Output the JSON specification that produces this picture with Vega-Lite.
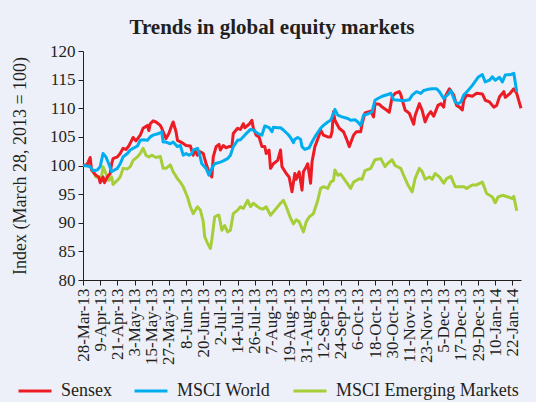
{
"$schema": "https://vega.github.io/schema/vega-lite/v6.json",
"width": 438, "height": 229,
"autosize": {"type": "none"},
"padding": {"left": 83, "top": 51, "right": 15, "bottom": 122},
"background": "#edf0f8",
"title": {"text": "Trends in global equity markets", "font": "Liberation Serif", "fontSize": 21, "fontWeight": "bold", "color": "#231f20", "anchor": "middle", "frame": "group", "dx": -30, "offset": 4},
"config": {
  "view": {"stroke": null},
  "axis": {"domainColor": "#231f20", "tickColor": "#231f20", "labelColor": "#231f20", "titleColor": "#231f20", "labelFont": "Liberation Serif", "labelFontSize": 17, "titleFont": "Liberation Serif", "titleFontSize": 18, "titleFontWeight": "normal", "tickSize": 5, "grid": false, "domainWidth": 1, "tickWidth": 1}
},
"datasets": {
"s": [
{"date":"2013-03-28","value":100},{"date":"2013-03-31","value":100.2},{"date":"2013-04-02","value":101.4},{"date":"2013-04-03","value":99.2},{"date":"2013-04-06","value":98.3},{"date":"2013-04-08","value":98},{"date":"2013-04-09","value":97},{"date":"2013-04-11","value":98},{"date":"2013-04-12","value":97},{"date":"2013-04-14","value":98},{"date":"2013-04-16","value":98.6},{"date":"2013-04-17","value":100.3},{"date":"2013-04-18","value":101.2},{"date":"2013-04-21","value":101.5},{"date":"2013-04-23","value":102.1},{"date":"2013-04-25","value":103},{"date":"2013-04-27","value":102.8},{"date":"2013-04-29","value":103.4},{"date":"2013-05-01","value":104.4},{"date":"2013-05-02","value":104.9},{"date":"2013-05-04","value":104.3},{"date":"2013-05-07","value":105.3},{"date":"2013-05-09","value":106.5},{"date":"2013-05-12","value":107},{"date":"2013-05-13","value":106.1},{"date":"2013-05-14","value":107.3},{"date":"2013-05-16","value":107.8},{"date":"2013-05-18","value":107.6},{"date":"2013-05-21","value":107},{"date":"2013-05-22","value":106.5},{"date":"2013-05-25","value":104.7},{"date":"2013-05-27","value":105.6},{"date":"2013-05-29","value":107},{"date":"2013-05-30","value":107.6},{"date":"2013-06-01","value":105.9},{"date":"2013-06-02","value":104.4},{"date":"2013-06-05","value":104},{"date":"2013-06-08","value":103.5},{"date":"2013-06-11","value":103.4},{"date":"2013-06-13","value":101.8},{"date":"2013-06-14","value":102.7},{"date":"2013-06-16","value":101.8},{"date":"2013-06-18","value":102.4},{"date":"2013-06-20","value":102.1},{"date":"2013-06-22","value":100.3},{"date":"2013-06-24","value":98.9},{"date":"2013-06-26","value":98},{"date":"2013-06-27","value":101.5},{"date":"2013-06-29","value":103.3},{"date":"2013-07-01","value":103.7},{"date":"2013-07-02","value":102.7},{"date":"2013-07-04","value":103.5},{"date":"2013-07-06","value":103.1},{"date":"2013-07-08","value":103.3},{"date":"2013-07-10","value":103.3},{"date":"2013-07-11","value":105.6},{"date":"2013-07-14","value":106.5},{"date":"2013-07-16","value":106.3},{"date":"2013-07-18","value":107.3},{"date":"2013-07-19","value":106.6},{"date":"2013-07-22","value":107.2},{"date":"2013-07-24","value":107.9},{"date":"2013-07-25","value":106.5},{"date":"2013-07-27","value":105.3},{"date":"2013-07-29","value":105},{"date":"2013-07-31","value":103.3},{"date":"2013-08-02","value":103.3},{"date":"2013-08-03","value":102.1},{"date":"2013-08-05","value":102.7},{"date":"2013-08-06","value":99.5},{"date":"2013-08-08","value":100.3},{"date":"2013-08-11","value":100.9},{"date":"2013-08-13","value":102.7},{"date":"2013-08-14","value":99.8},{"date":"2013-08-17","value":98.6},{"date":"2013-08-19","value":98},{"date":"2013-08-21","value":95.4},{"date":"2013-08-23","value":98.6},{"date":"2013-08-24","value":97.6},{"date":"2013-08-26","value":98.9},{"date":"2013-08-28","value":95.7},{"date":"2013-08-29","value":98.9},{"date":"2013-08-31","value":99.8},{"date":"2013-09-01","value":100.3},{"date":"2013-09-03","value":96.9},{"date":"2013-09-04","value":100.6},{"date":"2013-09-06","value":103.3},{"date":"2013-09-09","value":105.3},{"date":"2013-09-10","value":106.2},{"date":"2013-09-12","value":105.3},{"date":"2013-09-15","value":105},{"date":"2013-09-17","value":105},{"date":"2013-09-18","value":105.9},{"date":"2013-09-19","value":109.4},{"date":"2013-09-20","value":107.9},{"date":"2013-09-23","value":106.5},{"date":"2013-09-26","value":105.9},{"date":"2013-09-28","value":104.7},{"date":"2013-09-30","value":103.3},{"date":"2013-10-03","value":105.3},{"date":"2013-10-05","value":105.9},{"date":"2013-10-08","value":105.9},{"date":"2013-10-09","value":107.3},{"date":"2013-10-11","value":109.2},{"date":"2013-10-15","value":109.5},{"date":"2013-10-17","value":108.5},{"date":"2013-10-18","value":110.8},{"date":"2013-10-21","value":110.7},{"date":"2013-10-23","value":110.2},{"date":"2013-10-26","value":109.7},{"date":"2013-10-28","value":109.3},{"date":"2013-10-30","value":112},{"date":"2013-11-01","value":112.6},{"date":"2013-11-04","value":112.9},{"date":"2013-11-05","value":112.4},{"date":"2013-11-08","value":109.7},{"date":"2013-11-11","value":109.1},{"date":"2013-11-14","value":107.2},{"date":"2013-11-15","value":108.7},{"date":"2013-11-18","value":110.8},{"date":"2013-11-20","value":109.6},{"date":"2013-11-22","value":107.6},{"date":"2013-11-24","value":108.8},{"date":"2013-11-26","value":109.4},{"date":"2013-11-28","value":108.6},{"date":"2013-12-01","value":110.5},{"date":"2013-12-03","value":110.8},{"date":"2013-12-05","value":110.2},{"date":"2013-12-06","value":112},{"date":"2013-12-09","value":113.4},{"date":"2013-12-12","value":112.3},{"date":"2013-12-14","value":110.5},{"date":"2013-12-16","value":110.2},{"date":"2013-12-18","value":109.7},{"date":"2013-12-19","value":111.4},{"date":"2013-12-21","value":112.3},{"date":"2013-12-25","value":112.1},{"date":"2013-12-28","value":112.6},{"date":"2014-01-01","value":112.5},{"date":"2014-01-03","value":111.4},{"date":"2014-01-06","value":111.1},{"date":"2014-01-09","value":110.2},{"date":"2014-01-11","value":110.5},{"date":"2014-01-13","value":112},{"date":"2014-01-16","value":112.9},{"date":"2014-01-17","value":111.9},{"date":"2014-01-20","value":112.5},{"date":"2014-01-22","value":113.1},{"date":"2014-01-23","value":113.4},{"date":"2014-01-25","value":112.6},{"date":"2014-01-28","value":110}
],
"w": [
{"date":"2013-03-28","value":100},{"date":"2013-03-31","value":99.9},{"date":"2013-04-02","value":99.8},{"date":"2013-04-04","value":99.1},{"date":"2013-04-07","value":99.2},{"date":"2013-04-09","value":99.8},{"date":"2013-04-11","value":102.1},{"date":"2013-04-13","value":101.5},{"date":"2013-04-15","value":100.3},{"date":"2013-04-17","value":98.9},{"date":"2013-04-19","value":99.2},{"date":"2013-04-21","value":99.5},{"date":"2013-04-23","value":100.3},{"date":"2013-04-25","value":101.5},{"date":"2013-04-28","value":102.1},{"date":"2013-04-30","value":102.7},{"date":"2013-05-02","value":103},{"date":"2013-05-05","value":103.4},{"date":"2013-05-07","value":104.4},{"date":"2013-05-09","value":104.5},{"date":"2013-05-12","value":104.4},{"date":"2013-05-14","value":105},{"date":"2013-05-16","value":105.3},{"date":"2013-05-20","value":105.6},{"date":"2013-05-22","value":105.9},{"date":"2013-05-23","value":104.1},{"date":"2013-05-25","value":104.1},{"date":"2013-05-28","value":103.8},{"date":"2013-05-30","value":104.1},{"date":"2013-06-02","value":103.3},{"date":"2013-06-04","value":103.5},{"date":"2013-06-06","value":101.8},{"date":"2013-06-08","value":102.1},{"date":"2013-06-10","value":101.8},{"date":"2013-06-12","value":102.1},{"date":"2013-06-13","value":102.7},{"date":"2013-06-16","value":103},{"date":"2013-06-17","value":102.4},{"date":"2013-06-19","value":100.3},{"date":"2013-06-22","value":99.5},{"date":"2013-06-24","value":98.3},{"date":"2013-06-26","value":99.5},{"date":"2013-06-28","value":100.3},{"date":"2013-07-02","value":100.6},{"date":"2013-07-04","value":100.8},{"date":"2013-07-07","value":101.2},{"date":"2013-07-09","value":101.8},{"date":"2013-07-11","value":103.3},{"date":"2013-07-14","value":104.4},{"date":"2013-07-16","value":104.5},{"date":"2013-07-19","value":105.3},{"date":"2013-07-23","value":106.3},{"date":"2013-07-25","value":106.2},{"date":"2013-07-28","value":105.6},{"date":"2013-07-31","value":105.3},{"date":"2013-08-02","value":106.9},{"date":"2013-08-05","value":106.6},{"date":"2013-08-07","value":105.9},{"date":"2013-08-08","value":106.7},{"date":"2013-08-11","value":106.6},{"date":"2013-08-13","value":106.6},{"date":"2013-08-15","value":106.2},{"date":"2013-08-18","value":105.5},{"date":"2013-08-20","value":104.9},{"date":"2013-08-22","value":104},{"date":"2013-08-23","value":104.6},{"date":"2013-08-25","value":104.9},{"date":"2013-08-27","value":104.6},{"date":"2013-08-28","value":103.3},{"date":"2013-08-30","value":102.8},{"date":"2013-09-02","value":103.1},{"date":"2013-09-04","value":104.1},{"date":"2013-09-06","value":105},{"date":"2013-09-10","value":106.5},{"date":"2013-09-12","value":107},{"date":"2013-09-15","value":107.6},{"date":"2013-09-17","value":107.9},{"date":"2013-09-19","value":109.1},{"date":"2013-09-20","value":109.8},{"date":"2013-09-22","value":108.8},{"date":"2013-09-25","value":108.5},{"date":"2013-09-29","value":108.2},{"date":"2013-10-01","value":107.9},{"date":"2013-10-04","value":108},{"date":"2013-10-06","value":107.6},{"date":"2013-10-08","value":107},{"date":"2013-10-10","value":108.8},{"date":"2013-10-13","value":109},{"date":"2013-10-16","value":109.4},{"date":"2013-10-18","value":111.4},{"date":"2013-10-20","value":111.7},{"date":"2013-10-23","value":112.1},{"date":"2013-10-27","value":112.4},{"date":"2013-10-29","value":112.6},{"date":"2013-10-31","value":111.5},{"date":"2013-11-04","value":111.4},{"date":"2013-11-07","value":111.3},{"date":"2013-11-11","value":111.5},{"date":"2013-11-13","value":112.3},{"date":"2013-11-16","value":112.9},{"date":"2013-11-19","value":112.6},{"date":"2013-11-21","value":113.1},{"date":"2013-11-24","value":113.3},{"date":"2013-11-27","value":113.4},{"date":"2013-11-30","value":113.4},{"date":"2013-12-02","value":112.9},{"date":"2013-12-05","value":111.7},{"date":"2013-12-08","value":112.4},{"date":"2013-12-10","value":113.1},{"date":"2013-12-13","value":111.1},{"date":"2013-12-15","value":110.8},{"date":"2013-12-17","value":111.1},{"date":"2013-12-19","value":112.3},{"date":"2013-12-22","value":113.1},{"date":"2013-12-25","value":114},{"date":"2013-12-29","value":115.4},{"date":"2014-01-01","value":115.9},{"date":"2014-01-03","value":114.6},{"date":"2014-01-06","value":114.9},{"date":"2014-01-08","value":115.5},{"date":"2014-01-10","value":114.9},{"date":"2014-01-13","value":115.4},{"date":"2014-01-15","value":114.6},{"date":"2014-01-17","value":115.8},{"date":"2014-01-21","value":115.9},{"date":"2014-01-23","value":116.1},{"date":"2014-01-25","value":112.9}
],
"e": [
{"date":"2013-03-28","value":100},{"date":"2013-04-01","value":100},{"date":"2013-04-03","value":99.5},{"date":"2013-04-06","value":98},{"date":"2013-04-08","value":97.9},{"date":"2013-04-10","value":98.1},{"date":"2013-04-11","value":99.8},{"date":"2013-04-13","value":98.6},{"date":"2013-04-15","value":97.4},{"date":"2013-04-17","value":98},{"date":"2013-04-18","value":96.7},{"date":"2013-04-21","value":97.4},{"date":"2013-04-23","value":98},{"date":"2013-04-25","value":99.5},{"date":"2013-04-28","value":99.4},{"date":"2013-04-30","value":99.8},{"date":"2013-05-02","value":100.9},{"date":"2013-05-05","value":101.5},{"date":"2013-05-07","value":102.1},{"date":"2013-05-09","value":103},{"date":"2013-05-11","value":101.8},{"date":"2013-05-13","value":101.5},{"date":"2013-05-15","value":101.8},{"date":"2013-05-18","value":101.4},{"date":"2013-05-21","value":101.6},{"date":"2013-05-23","value":99.5},{"date":"2013-05-25","value":99.5},{"date":"2013-05-28","value":100.1},{"date":"2013-05-30","value":98.9},{"date":"2013-06-02","value":97.7},{"date":"2013-06-04","value":97.1},{"date":"2013-06-06","value":96.3},{"date":"2013-06-09","value":94.5},{"date":"2013-06-11","value":92.8},{"date":"2013-06-13","value":91.6},{"date":"2013-06-16","value":92.8},{"date":"2013-06-18","value":92.2},{"date":"2013-06-20","value":90.2},{"date":"2013-06-21","value":87.6},{"date":"2013-06-23","value":86.4},{"date":"2013-06-25","value":85.5},{"date":"2013-06-26","value":87},{"date":"2013-06-28","value":91},{"date":"2013-06-30","value":91.3},{"date":"2013-07-01","value":91.3},{"date":"2013-07-03","value":88.7},{"date":"2013-07-05","value":89.5},{"date":"2013-07-07","value":88.4},{"date":"2013-07-09","value":88.7},{"date":"2013-07-11","value":91.6},{"date":"2013-07-14","value":92.2},{"date":"2013-07-16","value":92.8},{"date":"2013-07-18","value":92.5},{"date":"2013-07-21","value":93.9},{"date":"2013-07-23","value":92.8},{"date":"2013-07-25","value":93.4},{"date":"2013-07-28","value":92.8},{"date":"2013-07-30","value":92.5},{"date":"2013-08-01","value":92.4},{"date":"2013-08-03","value":92.8},{"date":"2013-08-06","value":91.3},{"date":"2013-08-09","value":92.2},{"date":"2013-08-13","value":93.4},{"date":"2013-08-15","value":93.9},{"date":"2013-08-17","value":92.8},{"date":"2013-08-20","value":90.8},{"date":"2013-08-22","value":89.8},{"date":"2013-08-24","value":90.5},{"date":"2013-08-26","value":90.2},{"date":"2013-08-29","value":88.4},{"date":"2013-08-31","value":90.2},{"date":"2013-09-02","value":91},{"date":"2013-09-05","value":91.6},{"date":"2013-09-08","value":93.9},{"date":"2013-09-10","value":96},{"date":"2013-09-12","value":96.3},{"date":"2013-09-15","value":96},{"date":"2013-09-17","value":97.1},{"date":"2013-09-19","value":97.4},{"date":"2013-09-20","value":99.2},{"date":"2013-09-22","value":98.3},{"date":"2013-09-24","value":98.5},{"date":"2013-09-28","value":97.1},{"date":"2013-10-01","value":96},{"date":"2013-10-03","value":97.1},{"date":"2013-10-07","value":97.7},{"date":"2013-10-09","value":97.6},{"date":"2013-10-11","value":99.1},{"date":"2013-10-15","value":99.5},{"date":"2013-10-18","value":101},{"date":"2013-10-22","value":101.2},{"date":"2013-10-25","value":99.8},{"date":"2013-10-27","value":100.4},{"date":"2013-10-30","value":101},{"date":"2013-11-01","value":100},{"date":"2013-11-05","value":99.5},{"date":"2013-11-07","value":98.3},{"date":"2013-11-10","value":96.6},{"date":"2013-11-13","value":95.4},{"date":"2013-11-15","value":97.7},{"date":"2013-11-18","value":99.5},{"date":"2013-11-20","value":98.9},{"date":"2013-11-22","value":97.6},{"date":"2013-11-25","value":98},{"date":"2013-11-27","value":97.6},{"date":"2013-11-29","value":98.6},{"date":"2013-12-02","value":98},{"date":"2013-12-05","value":96.9},{"date":"2013-12-07","value":97.7},{"date":"2013-12-10","value":98.1},{"date":"2013-12-13","value":96.3},{"date":"2013-12-17","value":96.3},{"date":"2013-12-19","value":96.3},{"date":"2013-12-21","value":96},{"date":"2013-12-25","value":96.6},{"date":"2013-12-28","value":96.6},{"date":"2014-01-01","value":97.1},{"date":"2014-01-04","value":95.1},{"date":"2014-01-08","value":94.5},{"date":"2014-01-10","value":93.5},{"date":"2014-01-12","value":94.5},{"date":"2014-01-15","value":94.8},{"date":"2014-01-19","value":94.5},{"date":"2014-01-22","value":94.2},{"date":"2014-01-23","value":94.6},{"date":"2014-01-25","value":92.1}
]
},
"layer": [
{"data": {"name": "e"}, "transform": [{"calculate": "'MSCI Emerging Markets'", "as": "series"}],
 "mark": {"type": "line", "strokeWidth": 3, "strokeJoin": "round"},
 "encoding": {"x": {"field": "date", "type": "temporal"}, "y": {"field": "value", "type": "quantitative"}, "color": {"field": "series", "type": "nominal"}}},
{"data": {"name": "s"}, "transform": [{"calculate": "'Sensex'", "as": "series"}],
 "mark": {"type": "line", "strokeWidth": 3, "strokeJoin": "round"},
 "encoding": {"x": {"field": "date", "type": "temporal"}, "y": {"field": "value", "type": "quantitative"}, "color": {"field": "series", "type": "nominal"}}},
{"data": {"name": "w"}, "transform": [{"calculate": "'MSCI World'", "as": "series"}],
 "mark": {"type": "line", "strokeWidth": 3, "strokeJoin": "round"},
 "encoding": {"x": {"field": "date", "type": "temporal"}, "y": {"field": "value", "type": "quantitative"}, "color": {"field": "series", "type": "nominal"}}}
],
"encoding": {
  "x": {"field": "date", "type": "temporal",
    "scale": {"type": "utc", "domain": [{"year": 2013, "month": 3, "date": 28, "utc": true}, {"year": 2014, "month": 1, "date": 28, "utc": true}]},
    "axis": {"title": null, "format": "%-d-%b-%y", "labelAngle": -90, "labelOverlap": false, "labelBound": false, "labelFlush": false, "labelPadding": 3,
      "values": [
        {"year": 2013, "month": 3, "date": 28, "utc": true}, {"year": 2013, "month": 4, "date": 9, "utc": true}, {"year": 2013, "month": 4, "date": 21, "utc": true},
        {"year": 2013, "month": 5, "date": 3, "utc": true}, {"year": 2013, "month": 5, "date": 15, "utc": true}, {"year": 2013, "month": 5, "date": 27, "utc": true},
        {"year": 2013, "month": 6, "date": 8, "utc": true}, {"year": 2013, "month": 6, "date": 20, "utc": true}, {"year": 2013, "month": 7, "date": 2, "utc": true},
        {"year": 2013, "month": 7, "date": 14, "utc": true}, {"year": 2013, "month": 7, "date": 26, "utc": true}, {"year": 2013, "month": 8, "date": 7, "utc": true},
        {"year": 2013, "month": 8, "date": 19, "utc": true}, {"year": 2013, "month": 8, "date": 31, "utc": true}, {"year": 2013, "month": 9, "date": 12, "utc": true},
        {"year": 2013, "month": 9, "date": 24, "utc": true}, {"year": 2013, "month": 10, "date": 6, "utc": true}, {"year": 2013, "month": 10, "date": 18, "utc": true},
        {"year": 2013, "month": 10, "date": 30, "utc": true}, {"year": 2013, "month": 11, "date": 11, "utc": true}, {"year": 2013, "month": 11, "date": 23, "utc": true},
        {"year": 2013, "month": 12, "date": 5, "utc": true}, {"year": 2013, "month": 12, "date": 17, "utc": true}, {"year": 2013, "month": 12, "date": 29, "utc": true},
        {"year": 2014, "month": 1, "date": 10, "utc": true}, {"year": 2014, "month": 1, "date": 22, "utc": true}
      ]}},
  "y": {"field": "value", "type": "quantitative", "scale": {"domain": [80, 120], "nice": false, "zero": false},
    "axis": {"title": "Index (March 28, 2013 = 100)", "values": [80, 85, 90, 95, 100, 105, 110, 115, 120], "titlePadding": 20, "labelPadding": 3}},
  "color": {"field": "series", "type": "nominal",
    "scale": {"domain": ["Sensex", "MSCI World", "MSCI Emerging Markets"], "range": ["#ed1c24", "#00aeef", "#a6ce39"]},
    "legend": {"orient": "none", "legendX": -66, "legendY": 322, "direction": "horizontal", "title": null, "symbolType": "stroke", "symbolSize": 1089, "symbolStrokeWidth": 3, "labelFont": "Liberation Serif", "labelFontSize": 18, "labelColor": "#231f20", "labelOffset": 8, "columnPadding": 16, "labelLimit": 300}}
}
}
